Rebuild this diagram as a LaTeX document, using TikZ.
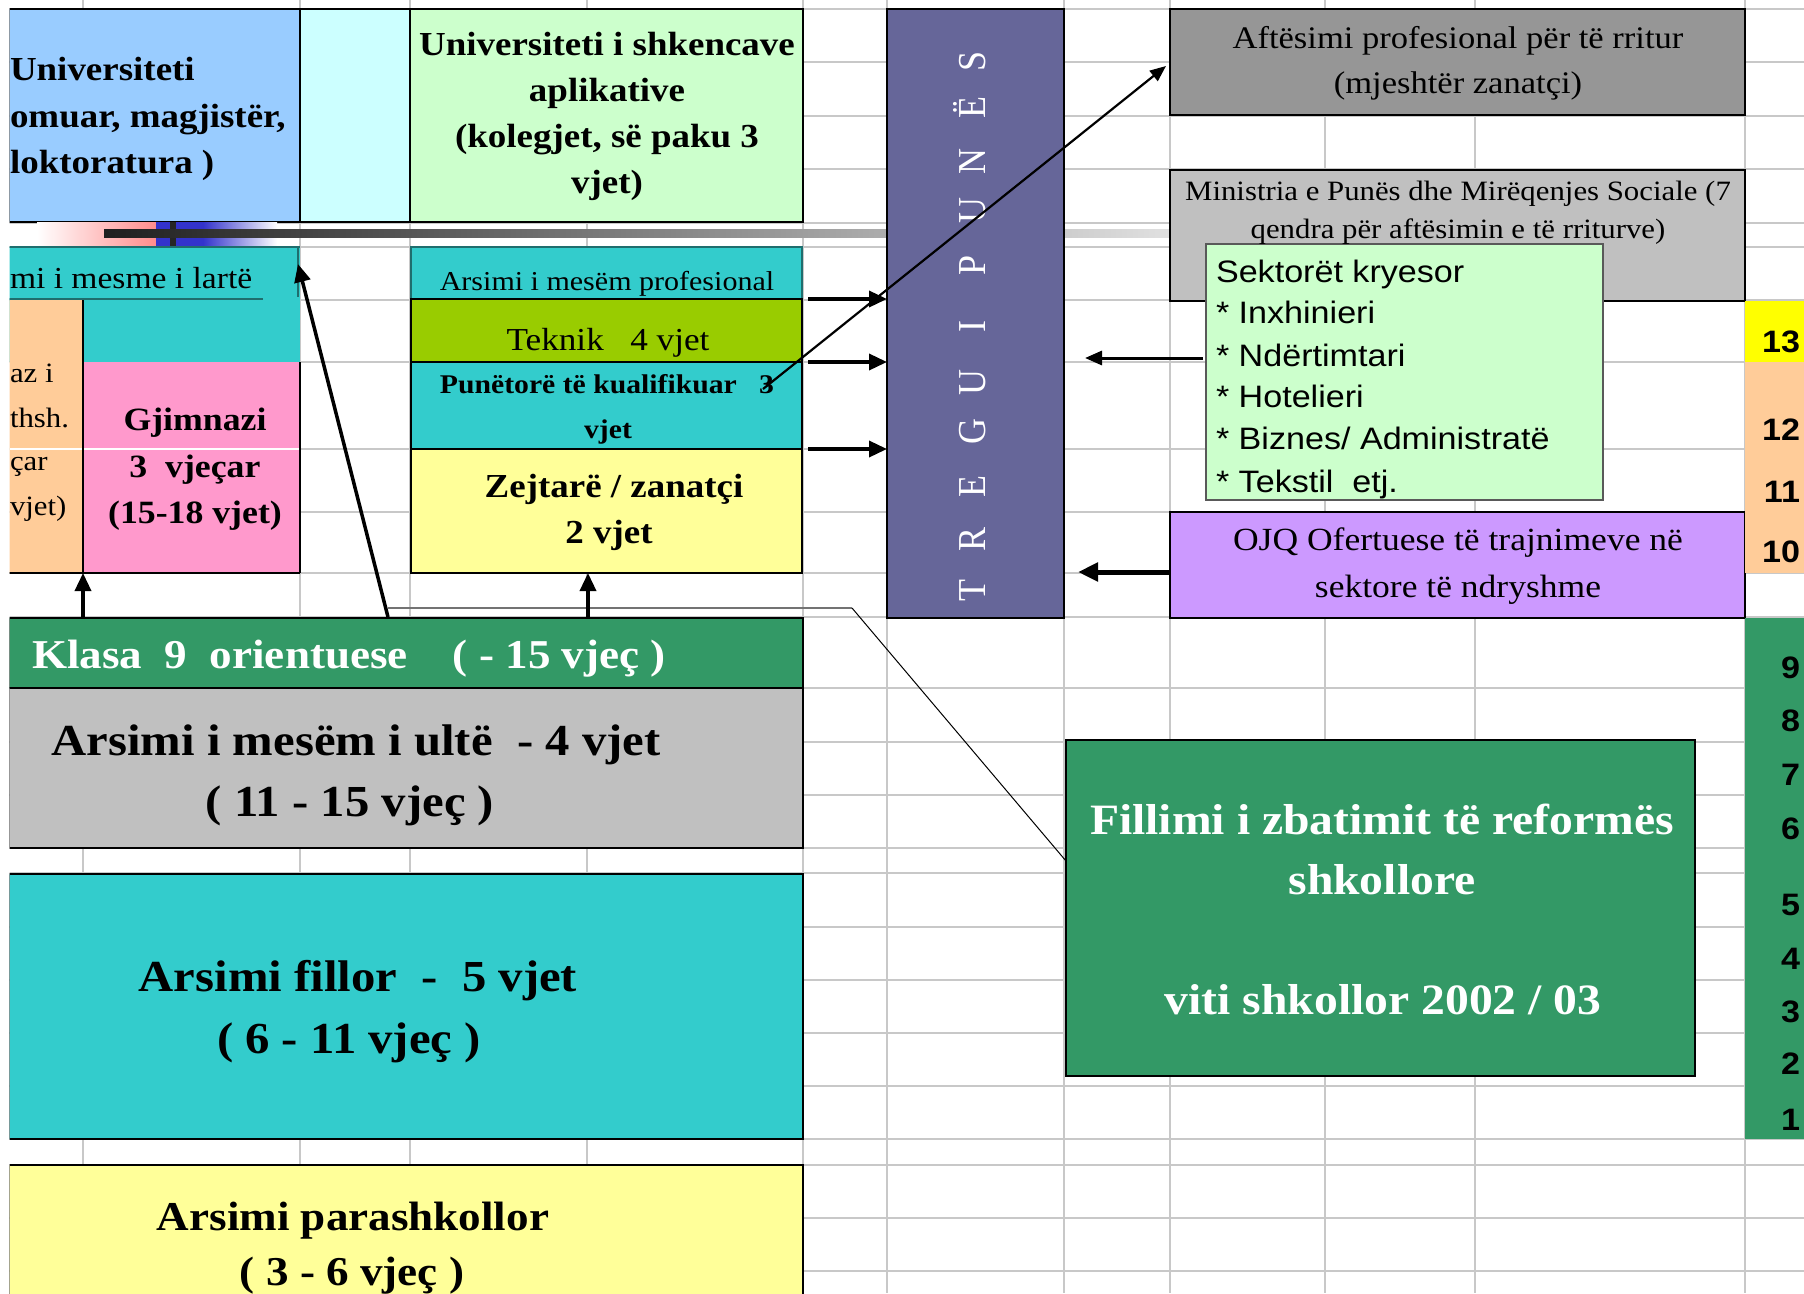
\documentclass[tikz,border=0pt]{standalone}
\usepackage{fontspec}
\setmainfont{Liberation Serif}[FakeStretch=1.1]
\newfontfamily\arialf{Liberation Sans}[FakeStretch=1.1]
\newfontfamily\plainserif{Liberation Serif}
\usetikzlibrary{arrows.meta}
\newcommand\fsz[1]{\fontsize{#1}{#1}\selectfont}
\definecolor{cBlue}{HTML}{99CCFF}
\definecolor{cIce}{HTML}{CCFFFF}
\definecolor{cMint}{HTML}{CCFFCC}
\definecolor{cTeal}{HTML}{33CCCC}
\definecolor{cTealD}{HTML}{1F6E6E}
\definecolor{cLime}{HTML}{99CC00}
\definecolor{cPeach}{HTML}{FFCC99}
\definecolor{cRose}{HTML}{FF99CC}
\definecolor{cCream}{HTML}{FFFF99}
\definecolor{cSea}{HTML}{339966}
\definecolor{cSilver}{HTML}{C0C0C0}
\definecolor{cGray}{HTML}{969696}
\definecolor{cSlate}{HTML}{666699}
\definecolor{cLav}{HTML}{CC99FF}
\definecolor{cYel}{HTML}{FFFF00}
\definecolor{cGrid}{HTML}{C8C8C8}
\definecolor{cPinkG}{HTML}{FF8C8C}
\definecolor{cBlueG}{HTML}{3333CC}
\begin{document}
\begin{tikzpicture}[x=1pt,y=-1pt,
  box/.style={draw=black, line width=1.2pt, inner sep=0pt, outer sep=0pt, anchor=north west},
  plainbox/.style={draw=none, inner sep=0pt, outer sep=0pt, anchor=north west},
  gridln/.style={draw=cGrid, line width=1.3pt},
  tx/.style={inner sep=0pt, outer sep=0pt, anchor=base},
  txl/.style={inner sep=0pt, outer sep=0pt, anchor=base west},
  num/.style={inner sep=0pt, outer sep=0pt, anchor=east, font=\arialf\bfseries\fsz{31}},
  tregl/.style={inner sep=0pt, outer sep=0pt, anchor=base, rotate=90, text=white, font=\plainserif\fsz{36}},
  arr/.style={line width=3.5pt, -{Triangle[length=18pt,width=16pt]}},
]
\useasboundingbox (0,0) rectangle (1804,1293);
\clip (9.6,0) rectangle (1804,1293);
% spreadsheet grid
\foreach \gx in {83,300,410,587,803,887,1064,1170,1325,1475,1745}
  \draw[gridln] (\gx,0) -- (\gx,1293);
\foreach \gy in {9,62,116,169,223,247,300,362,449,512,573,617,688,742,795,848,873,927,980,1033,1086,1139,1165,1218,1271}
  \draw[gridln] (9,\gy) -- (1804,\gy);
% top row
\node[box, fill=cBlue, minimum width=291, minimum height=213] (uniA) at (9,9) {};
\node[box, fill=cIce, minimum width=110, minimum height=213] (uniB) at (300,9) {};
\node[box, fill=cMint, minimum width=393, minimum height=213] (uniC) at (410,9) {};
% gradient decoration
\shade[left color=white, right color=cPinkG] (37,222) rectangle (156,246);
\fill[cBlueG] (156,222) rectangle (203,246);
\shade[left color=cBlueG, right color=white] (203,222) rectangle (277,246);
\fill[black!85] (170,222) rectangle (176,246);
\shade[left color=black!88, middle color=black!60, right color=black!12] (104,229) rectangle (1170,237);
% left secondary
\node[plainbox, fill=cTeal, minimum width=291, minimum height=115] (lart) at (9,247) {};
\node[plainbox, fill=cPeach, minimum width=74, minimum height=273] (peach) at (9,300) {};
\node[plainbox, fill=cRose, minimum width=217, minimum height=211] (gjim) at (83,362) {};
\draw[cTealD, line width=1.5pt] (9,247) -- (300,247);
\draw[cTealD, line width=1.5pt] (298,247) -- (298,297);
\draw[cTealD, line width=1.5pt] (9,299) -- (263,299);
\draw[white, line width=1.3pt] (9,449) -- (300,449);
\draw[black, line width=1.2pt] (peach.north east) -- (peach.south east);
\draw[black, line width=1.2pt] (gjim.north east) -- (gjim.south east);
\draw[black, line width=1.2pt] (peach.south west) -- (gjim.south east);
% vocational column
\node[box, draw=cTealD, fill=cTeal, minimum width=391, minimum height=52] (prof) at (411,247) {};
\node[box, fill=cLime, minimum width=391, minimum height=63] (tekn) at (411,299) {};
\node[box, fill=cTeal, minimum width=391, minimum height=87] (pune) at (411,362) {};
\node[box, fill=cCream, minimum width=391, minimum height=124] (zejt) at (411,449) {};
% lower left
\node[box, fill=cSea, minimum width=794, minimum height=70] (klasa) at (9,618) {};
\node[box, fill=cSilver, minimum width=794, minimum height=160] (ulte) at (9,688) {};
\node[box, fill=cTeal, minimum width=794, minimum height=265] (fill) at (9,874) {};
\node[box, fill=cCream, minimum width=794, minimum height=140] (para) at (9,1165) {};
% market column
\node[box, fill=cSlate, line width=1.5pt, minimum width=177, minimum height=609] (tregu) at (887,9) {};
% right boxes
\node[box, fill=cGray, minimum width=575, minimum height=106] (aft) at (1170,9) {};
\node[box, fill=cSilver, minimum width=575, minimum height=131] (minis) at (1170,170) {};
\node[box, draw=black!65, fill=cMint, minimum width=397, minimum height=256] (sekt) at (1206,244) {};
\node[box, fill=cLav, minimum width=575, minimum height=106] (ojq) at (1170,512) {};
\node[box, fill=cSea, minimum width=629, minimum height=336] (fillimi) at (1066,740) {};
% number column
\node[plainbox, fill=cYel, minimum width=60, minimum height=61] (c13) at (1745,301) {};
\node[plainbox, fill=cPeach, minimum width=60, minimum height=211] (cpe) at (1745,362) {};
\node[plainbox, fill=cSea, minimum width=60, minimum height=521] (cgr) at (1745,618) {};
% connectors
\coordinate (kB) at (388,617);
\coordinate (lartTip) at (298,264);
\coordinate (kC) at (588,617);
\coordinate (gA) at (388,608);
\coordinate (gB) at (852,608);
\coordinate (gC) at (1066,861);
\draw[black!55, line width=2pt] (gA) -- (gB);
\draw[black, line width=1pt] (gB) -- (gC);
\draw[arr] (klasa.north -| peach.east) -- (peach.south east);
\draw[arr] (kB) -- (lartTip);
\draw[arr] (kC) -- (kC |- zejt.south);
\draw[arr] ([xshift=6pt]tekn.north east) -- (tekn.north east -| tregu.west);
\draw[arr] ([xshift=6pt]pune.north east) -- (pune.north east -| tregu.west);
\draw[arr] ([xshift=6pt]zejt.north east) -- (zejt.north east -| tregu.west);
\coordinate (sA) at (1203,358);
\coordinate (sB) at (1085,358);
\draw[line width=3pt, -{Triangle[length=17pt,width=14pt]}] (sA) -- (sB);
\coordinate (oA) at (1170,572);
\coordinate (oB) at (1078,572);
\draw[line width=5pt, -{Triangle[length=20pt,width=18pt]}] (oA) -- (oB);
% texts
\node[txl, font=\bfseries\fsz{33.6}] (uA1) at (10,80) {Universiteti};
\node[txl, font=\bfseries\fsz{33.6}] (uA2) at (10,127) {omuar, magjistër,};
\node[txl, font=\bfseries\fsz{33.6}] (uA3) at (10,173) {loktoratura )};
\node[tx, font=\bfseries\fsz{33.6}] (uC1) at (607,55) {Universiteti i shkencave};
\node[tx, font=\bfseries\fsz{33.6}] (uC2) at (607,101) {aplikative};
\node[tx, font=\bfseries\fsz{33.6}] (uC3) at (607,147) {(kolegjet, së paku 3};
\node[tx, font=\bfseries\fsz{33.6}] (uC4) at (607,193) {vjet)};
\node[txl, font=\fsz{30.5}] (lt1) at (10,288) {mi i mesme i lartë};
\node[txl, font=\fsz{28}] (pe1) at (10,382) {az i};
\node[txl, font=\fsz{28}] (pe2) at (10,427) {thsh.};
\node[txl, font=\fsz{28}] (pe3) at (10,470) {çar};
\node[txl, font=\fsz{28}] (pe4) at (10,515) {vjet)};
\node[tx, font=\bfseries\fsz{32.5}] (gj1) at (195,430) {Gjimnazi};
\node[tx, font=\bfseries\fsz{32.5}] (gj2) at (195,477) {3\ \ vjeçar};
\node[tx, font=\bfseries\fsz{32.5}] (gj3) at (195,523) {(15-18 vjet)};
\node[tx, font=\fsz{27.3}] (pr1) at (607,290) {Arsimi i mesëm profesional};
\node[tx, font=\fsz{32}] (te1) at (608,350) {Teknik\ \ \ 4 vjet};
\node[tx, font=\bfseries\fsz{27}] (pu1) at (607,393) {Punëtorë të kualifikuar\ \ \ 3};
\node[tx, font=\bfseries\fsz{27}] (pu2) at (608,438) {vjet};
\node[tx, font=\bfseries\fsz{33.6}] (ze1) at (614,497) {Zejtarë / zanatçi};
\node[tx, font=\bfseries\fsz{33.6}] (ze2) at (609,543) {2 vjet};
\node[txl, text=white, font=\bfseries\fsz{41}] (kl1) at (32,668) {Klasa\ \ 9\ \ orientuese\ \ \ \ ( - 15 vjeç )};
\node[tx, font=\bfseries\fsz{44.3}] (ul1) at (356,755) {Arsimi i mesëm i ultë\ \ - 4 vjet};
\node[tx, font=\bfseries\fsz{44.3}] (ul2) at (350,816) {( 11 - 15 vjeç )};
\node[tx, font=\bfseries\fsz{44.3}] (fi1) at (358,991) {Arsimi fillor\ \ -\ \ 5 vjet};
\node[tx, font=\bfseries\fsz{44.3}] (fi2) at (349,1053) {( 6 - 11 vjeç )};
\node[tx, font=\bfseries\fsz{41}] (pa1) at (353,1230) {Arsimi parashkollor};
\node[tx, font=\bfseries\fsz{41}] (pa2) at (352,1285) {( 3 - 6 vjeç )};
\node[tx, font=\fsz{31.4}] (af1) at (1458,48) {Aftësimi profesional për të rritur};
\node[tx, font=\fsz{31.4}] (af2) at (1458,93) {(mjeshtër zanatçi)};
\node[tx, font=\fsz{28}] (mi1) at (1458,200) {Ministria e Punës dhe Mirëqenjes Sociale (7};
\node[tx, font=\fsz{28}] (mi2) at (1458,238) {qendra për aftësimin e të rriturve)};
\node[tx, font=\fsz{32.3}] (oj1) at (1458,550) {OJQ Ofertuese të trajnimeve në};
\node[tx, font=\fsz{32.3}] (oj2) at (1458,597) {sektore të ndryshme};
\node[txl, font=\arialf\fsz{31}] (se1) at (1216,282) {Sektorët kryesor};
\node[txl, font=\arialf\fsz{31}] (se2) at (1216,323) {* Inxhinieri};
\node[txl, font=\arialf\fsz{31}] (se3) at (1216,366) {* Ndërtimtari};
\node[txl, font=\arialf\fsz{31}] (se4) at (1216,407) {* Hotelieri};
\node[txl, font=\arialf\fsz{31}] (se5) at (1216,449) {* Biznes/ Administratë};
\node[txl, font=\arialf\fsz{31}] (se6) at (1216,492) {* Tekstil\ \ etj.};
\node[tx, text=white, font=\bfseries\fsz{43.3}] (fl1) at (1382,834) {Fillimi i zbatimit të reformës};
\node[tx, text=white, font=\bfseries\fsz{43.3}] (fl2) at (1382,894) {shkollore};
\node[tx, text=white, font=\bfseries\fsz{43.3}] (fl3) at (1383,1014) {viti shkollor 2002 / 03};
% market letters
\foreach \ly/\lt [count=\i] in {590/T,539/R,486/E,431/G,382/U,327/I,265/P,210/U,161/N,108/Ë,61/S}
  \node[tregl] (tl\i) at (985,\ly) {\scalebox{1}[1.1]{\lt}};
% diagonal arrow over market box
\coordinate (dA) at (763,389);
\coordinate (dB) at (1166,66);
\draw[line width=2.2pt, -{Triangle[length=16pt,width=13pt]}] (dA) -- (dB);
% level numbers
\node[num] (n13) at (1800,342) {13};
\node[num] (n12) at (1800,430) {12};
\node[num] (n11) at (1800,492) {11};
\node[num] (n10) at (1800,552) {10};
\node[num] (n9) at (1800,668) {9};
\node[num] (n8) at (1800,721) {8};
\node[num] (n7) at (1800,775) {7};
\node[num] (n6) at (1800,829) {6};
\node[num] (n5) at (1800,905) {5};
\node[num] (n4) at (1800,959) {4};
\node[num] (n3) at (1800,1012) {3};
\node[num] (n2) at (1800,1064) {2};
\node[num] (n1) at (1800,1120) {1};
\end{tikzpicture}
\end{document}
